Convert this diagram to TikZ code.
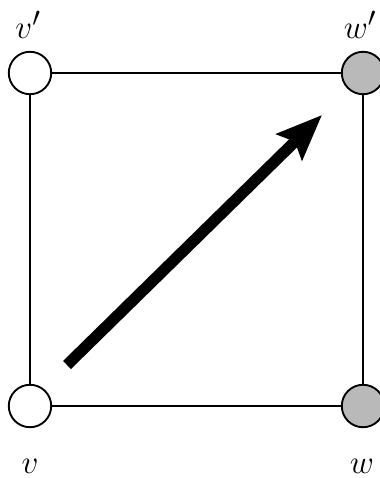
\documentclass[tikz,border=0pt]{standalone}
\usepackage{tikz}
\usetikzlibrary{arrows.meta}

\begin{document}
\begin{tikzpicture}[
  x=0.2639mm, y=-0.2639mm,
  site/.style={draw, circle, line width=1.4pt, minimum size=11.2mm, inner sep=0pt},
  white/.style={site, fill=white},
  dotted site/.style={site, fill=gray!55},
  lbl/.style={font=\fontsize{28}{32}\selectfont},
  edge/.style={line width=0.9pt},
  move/.style={-{Stealth[length=12mm, width=9.5mm, inset=2mm]}, line width=8.5pt}
]
\useasboundingbox (0,0) rectangle (379,478);

\node[white] (vp) at (30,73) {};
\node[dotted site] (wp) at (363,73) {};
\node[white] (v) at (30,406) {};
\node[dotted site] (w) at (363,406) {};

\draw[edge] (vp) -- (wp);
\draw[edge] (wp) -- (w);
\draw[edge] (w) -- (v);
\draw[edge] (v) -- (vp);

\node[lbl] (vplbl) at (28,25) {$v'$};
\node[lbl] (wplbl) at (360,25) {$w'$};
\node[lbl] (vlbl) at (30,466) {$v$};
\node[lbl] (wlbl) at (362,466) {$w$};

\coordinate (tail) at (67,365);
\coordinate (head) at (322,115);
\draw[move] (tail) -- (head);
\end{tikzpicture}
\end{document}
